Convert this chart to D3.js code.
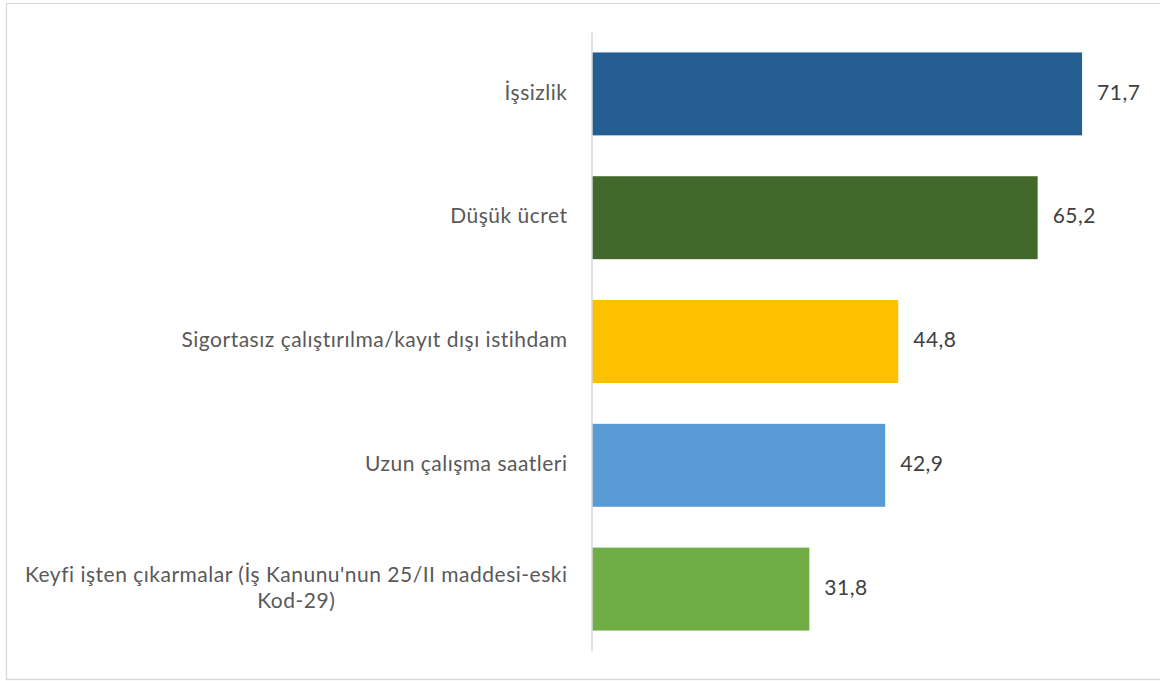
<!DOCTYPE html>
<html>
<head>
<meta charset="utf-8">
<script src="https://cdn.jsdelivr.net/npm/d3@7"></script>
<style>
  html, body { margin: 0; padding: 0; background: #fff; }
  svg { display: block; }
</style>
</head>
<body>
<svg id="chart" width="1160" height="681"></svg>
<script>
const categories = [
  "İşsizlik",
  "Düşük ücret",
  "Sigortasız çalıştırılma/kayıt dışı istihdam",
  "Uzun çalışma saatleri",
  "Keyfi işten çıkarmalar (İş Kanunu'nun 25/II maddesi-eski Kod-29)"
];
const categoryLines = [
  ["İşsizlik"],
  ["Düşük ücret"],
  ["Sigortasız çalıştırılma/kayıt dışı istihdam"],
  ["Uzun çalışma saatleri"],
  ["Keyfi işten çıkarmalar (İş Kanunu'nun 25/II maddesi-eski", "Kod-29)"]
];
const values = [71.7, 65.2, 44.8, 42.9, 31.8];
const valueLabels = ["71,7", "65,2", "44,8", "42,9", "31,8"];
const colors = ["#255E91", "#43682B", "#FFC000", "#5B9BD5", "#70AD47"];

const svg = d3.select("#chart");
const font = "Lato, 'Open Sans', sans-serif";
const fontSize = 21;
const spacing = 0.5;

// chart border
svg.append("rect")
  .attr("x", 6.5).attr("y", 3.5)
  .attr("width", 1200).attr("height", 676)
  .attr("fill", "none").attr("stroke", "#d9d9d9").attr("stroke-width", 1.3);

const x = d3.scaleLinear().domain([0, 80]).range([592, 592 + 80 * 6.835]);
const y = d3.scaleBand().domain(categories).range([32, 651])
  .paddingInner(0.33).paddingOuter(0.165);

// bars
svg.append("g").selectAll("rect")
  .data(categories)
  .join("rect")
  .attr("x", x(0))
  .attr("y", d => y(d))
  .attr("width", (d, i) => x(values[i]) - x(0))
  .attr("height", y.bandwidth())
  .attr("fill", (d, i) => colors[i]);

// category axis line
const axis = d3.axisLeft(y).tickSize(0).tickFormat("");
const axisG = svg.append("g").attr("transform", `translate(${x(0) - 0.5},0)`).call(axis);
axisG.select(".domain").attr("stroke", "#d9d9d9").attr("stroke-width", 1.5);

// category labels
const labelRight = 567.5;
const lineH = 26;
const labG = svg.append("g")
  .attr("font-family", font).attr("font-size", fontSize)
  .attr("letter-spacing", spacing).attr("fill", "#595959");
categories.forEach((c, i) => {
  const lines = categoryLines[i];
  const cy = y(c) + y.bandwidth() / 2;
  const t = labG.append("text");
  lines.forEach((ln, j) => {
    t.append("tspan").text(ln)
      .attr("y", cy + (j - (lines.length - 1) / 2) * lineH)
      .attr("dy", "0.27em");
  });
  const spans = t.selectAll("tspan").nodes();
  const widths = spans.map(s => s.getComputedTextLength());
  const maxW = d3.max(widths);
  if (lines.length === 1) {
    t.attr("text-anchor", "end");
    d3.select(spans[0]).attr("x", labelRight);
  } else {
    t.attr("text-anchor", "middle");
    spans.forEach(s => d3.select(s).attr("x", labelRight - maxW / 2));
  }
});

// value labels
svg.append("g")
  .attr("font-family", font).attr("font-size", fontSize)
  .attr("letter-spacing", spacing).attr("fill", "#404040")
  .selectAll("text")
  .data(categories)
  .join("text")
  .attr("x", (d, i) => x(values[i]) + 15)
  .attr("y", d => y(d) + y.bandwidth() / 2)
  .attr("dy", "0.27em")
  .text((d, i) => valueLabels[i]);
</script>
</body>
</html>
